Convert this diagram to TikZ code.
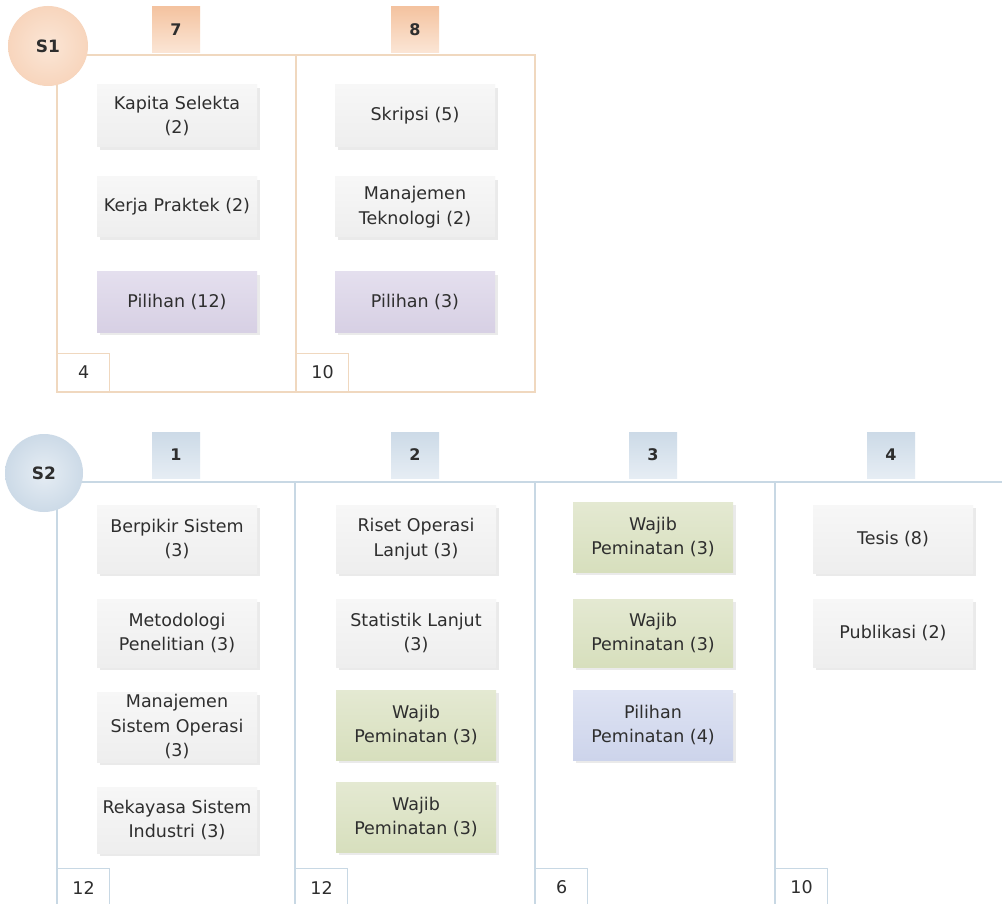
\documentclass[tikz,border=0pt]{standalone}
\usepackage{fontspec}
\setmainfont{DejaVu Sans}
\usepackage{xcolor}
\usetikzlibrary{shadows}
\definecolor{textcol}{HTML}{2E2E2E}
\definecolor{onerule}{HTML}{F0D8BF}
\definecolor{onedark}{HTML}{F4C3A0}
\definecolor{onelight}{HTML}{FBE6D6}
\definecolor{tworule}{HTML}{C8D8E4}
\definecolor{twodark}{HTML}{CCDAE7}
\definecolor{twolight}{HTML}{E6EDF4}
\definecolor{greytop}{HTML}{F7F7F7}
\definecolor{greybot}{HTML}{EEEEEE}
\definecolor{purptop}{HTML}{E4DFEE}
\definecolor{purpbot}{HTML}{D7D0E4}
\definecolor{greentop}{HTML}{E4E9D2}
\definecolor{greenbot}{HTML}{D7DFBD}
\definecolor{bluetop}{HTML}{DEE3F3}
\definecolor{bluebot}{HTML}{CDD4EB}
\newcommand{\coursefont}{\fontsize{17.5}{24.5}\selectfont}
\tikzset{
  course/.style={minimum width=160pt, minimum height=#1, inner sep=1pt, align=center,
    text=textcol, font=\coursefont, top color=greytop, bottom color=greybot,
    drop shadow={shadow xshift=3pt, shadow yshift=-3pt, fill=black!40, opacity=0.2}},
  course/.default=60pt,
  elective/.style={top color=purptop, bottom color=purpbot},
  mandatory/.style={top color=greentop, bottom color=greenbot},
  track/.style={top color=bluetop, bottom color=bluebot},
  semcircle/.style={circle, minimum size=#1, inner sep=0pt, font=\bfseries\fontsize{17}{19}\selectfont, text=textcol},
  termhead/.style={minimum width=48pt, minimum height=46pt, inner sep=0pt,
    font=\bfseries\fontsize{16}{18}\selectfont, text=textcol},
  sumbox/.style={draw=#1, line width=1.2pt, minimum width=52pt, minimum height=38pt, inner sep=0pt,
    font=\coursefont, text=textcol, fill=white},
  onerulestyle/.style={draw=onerule, line width=1.5pt},
  tworulestyle/.style={draw=tworule, line width=1.5pt},
}

\begin{document}
\begin{tikzpicture}[x=1pt,y=-1pt]
\clip (0,0) rectangle (1002,904);
\fill[white] (0,0) rectangle (1002,904);
% S1
\draw[onerulestyle] (57,55) rectangle (535,392);
\draw[onerulestyle] (296,55) -- (296,392);
\node[semcircle=80pt, inner color=onelight, outer color=onedark!70] (s1) at (48,46) {S1};
\node[termhead, top color=onedark, bottom color=onelight] (t7) at (176,30) {7};
\node[termhead, top color=onedark, bottom color=onelight] (t8) at (415,30) {8};
\node[course=62pt] (kapita) at (177,116) {Kapita Selekta\\(2)};
\node[course] (kp) at (177,207) {Kerja Praktek (2)};
\node[course, elective] (pil12) at (177,302) {Pilihan (12)};
\node[course=62pt] (skripsi) at (415,116) {Skripsi (5)};
\node[course] (mantek) at (415,207) {Manajemen\\Teknologi (2)};
\node[course, elective] (pil3) at (415,302) {Pilihan (3)};
\node[sumbox=onerule, anchor=south west] (sum7) at (57,392) {4};
\node[sumbox=onerule, anchor=south west] (sum8) at (296,392) {10};
% S2
\draw[tworulestyle] (57,482) -- (1002,482);
\foreach \xd in {57,295,535,775}
  \draw[tworulestyle] (\xd,482) -- (\xd,904);
\node[semcircle=78pt, inner color=twolight, outer color=twodark] (s2) at (44,473) {S2};
\node[termhead, top color=twodark, bottom color=twolight] (t1) at (176,455) {1};
\node[termhead, top color=twodark, bottom color=twolight] (t2) at (415,455) {2};
\node[termhead, top color=twodark, bottom color=twolight] (t3) at (653,455) {3};
\node[termhead, top color=twodark, bottom color=twolight] (t4) at (891,455) {4};
\node[course=68pt] (berpikir) at (177,539) {Berpikir Sistem\\(3)};
\node[course=68pt] (metpen) at (177,633) {Metodologi\\Penelitian (3)};
\node[course=70pt] (mso) at (177,727) {Manajemen\\Sistem Operasi\\(3)};
\node[course=66pt] (rsi) at (177,820) {Rekayasa Sistem\\Industri (3)};
\node[course=68pt] (rol) at (416,539) {Riset Operasi\\Lanjut (3)};
\node[course=68pt] (stat) at (416,633) {Statistik Lanjut\\(3)};
\node[course=70pt, mandatory] (wp21) at (416,725) {Wajib\\Peminatan (3)};
\node[course=70pt, mandatory] (wp22) at (416,817) {Wajib\\Peminatan (3)};
\node[course=70pt, mandatory] (wp31) at (653,537) {Wajib\\Peminatan (3)};
\node[course=68pt, mandatory] (wp32) at (653,633) {Wajib\\Peminatan (3)};
\node[course=70pt, track] (pp) at (653,725) {Pilihan\\Peminatan (4)};
\node[course=68pt] (tesis) at (893,539) {Tesis (8)};
\node[course=68pt] (publ) at (893,633) {Publikasi (2)};
\node[sumbox=tworule, anchor=north west] (sum1) at (57,868) {12};
\node[sumbox=tworule, anchor=north west] (sum2) at (295,868) {12};
\node[sumbox=tworule, anchor=north west] (sum3) at (535,868) {6};
\node[sumbox=tworule, anchor=north west] (sum4) at (775,868) {10};
\end{tikzpicture}
\end{document}
